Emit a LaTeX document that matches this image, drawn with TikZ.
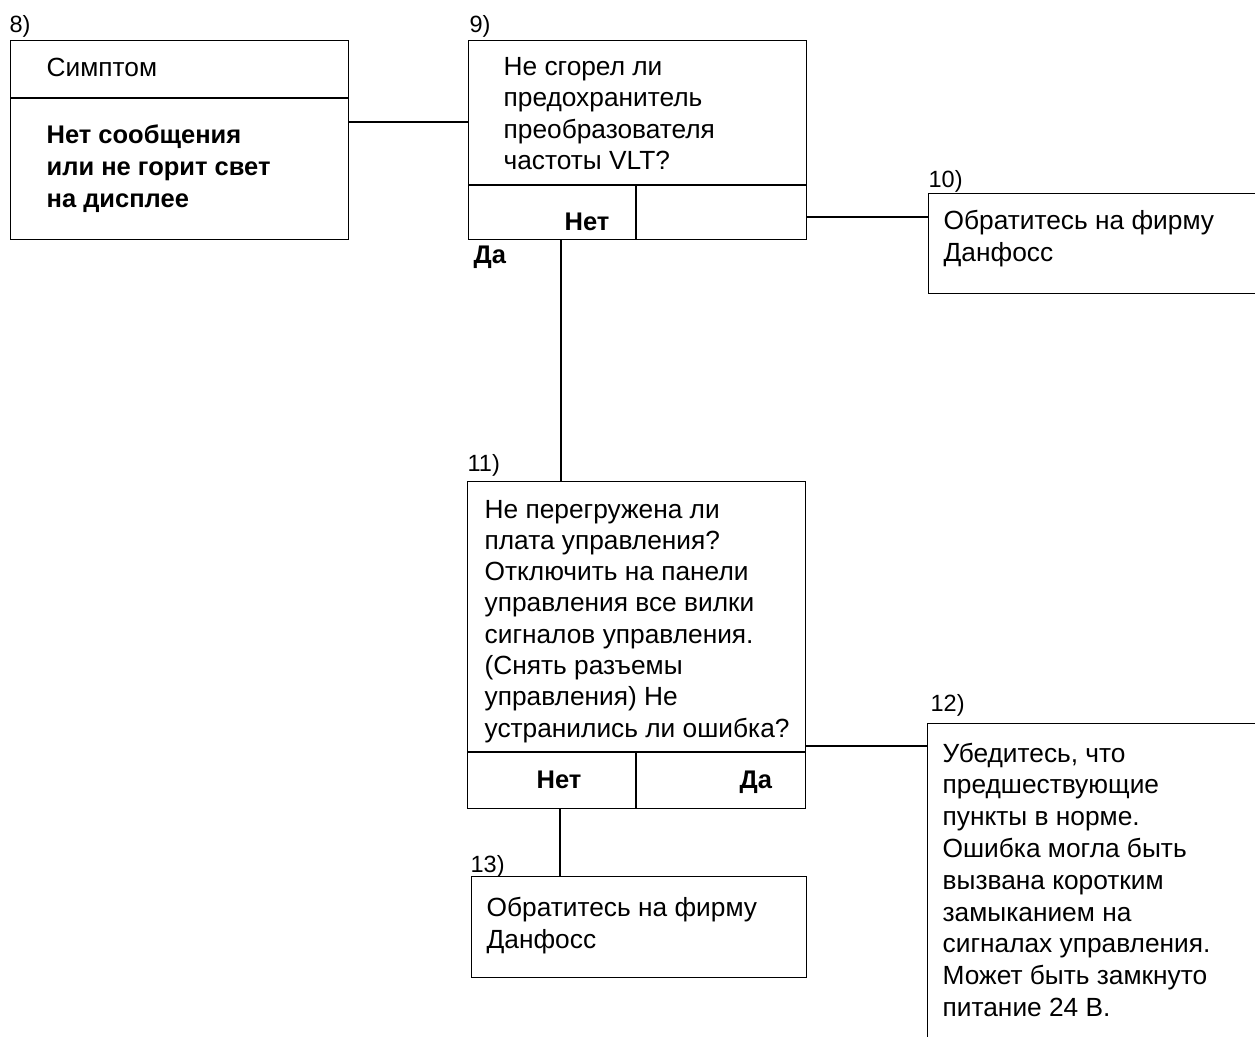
\documentclass[tikz,border=0pt]{standalone}
\usepackage{fontspec}
\setmainfont{Liberation Sans}
\newcommand{\tlines}[1]{\begin{tabular}[t]{@{}l@{}}#1\end{tabular}}
\begin{document}
\begin{tikzpicture}[x=1pt,y=-1pt,line width=1.3pt,
  box/.style={draw,rectangle,inner sep=0pt,anchor=north west},
  txt/.style={anchor=base west,inner sep=0pt,font=\fontsize{26.3}{#1}\selectfont},
  txt/.default=31,
  lbl/.style={anchor=base west,inner sep=0pt,font=\fontsize{23.5}{28}\selectfont},
  bold/.style={anchor=base west,inner sep=0pt,font=\fontsize{25.5}{#1}\selectfont\bfseries},
  bold/.default=31]
\clip (0,0) rectangle (1255,1036);
\fill[white] (0,0) rectangle (1255,1036);
% boxes
\node[box,minimum width=338pt,minimum height=199pt] (b8) at (10,40) {};
\node[box,minimum width=338pt,minimum height=199pt] (b9) at (468,40) {};
\node[box,minimum width=342pt,minimum height=100pt] (b10) at (928,193) {};
\node[box,minimum width=338pt,minimum height=327pt] (b11) at (467,481) {};
\node[box,minimum width=343pt,minimum height=340pt] (b12) at (927,723) {};
\node[box,minimum width=335pt,minimum height=101pt] (b13) at (471,876) {};
% dividers
\draw (b8.west |- 0,98) -- (b8.east |- 0,98);
\draw (b9.west |- 0,185) -- (b9.east |- 0,185);
\draw (636,185) -- (b9.south -| 636,0);
\draw (b11.west |- 0,752) -- (b11.east |- 0,752);
\draw (636,752) -- (b11.south -| 636,0);
% connectors
\draw (b8.east |- 0,122) -- (b9.west |- 0,122);
\draw (b9.east |- 0,217) -- (b10.west |- 0,217);
\draw (b9.south -| 561,0) -- (b11.north -| 561,0);
\draw (b11.east |- 0,746) -- (b12.west |- 0,746);
\draw (b11.south -| 560,0) -- (b13.north -| 560,0);
% labels
\node[lbl] (l8) at (9,32) {8)};
\node[lbl] (l9) at (469,32) {9)};
\node[lbl] (l10) at (928,187) {10)};
\node[lbl] (l11) at (467,471) {11)};
\node[lbl] (l12) at (930,711) {12)};
\node[lbl] (l13) at (470,872) {13)};
% texts
\node[txt] (t8a) at (46,76) {Симптом};
\node[bold=32] (t8b) at (46,143) {\tlines{Нет сообщения\\или не горит свет\\на дисплее}};
\node[txt=31.5] (t9) at (503,75) {\tlines{Не сгорел ли\\предохранитель\\преобразователя\\частоты VLT?}};
\node[bold] (n9) at (564,230) {Нет};
\node[bold] (d9) at (473,263) {Да};
\node[txt=32] (t10) at (943,229) {\tlines{Обратитесь на фирму\\Данфосс}};
\node[txt=31.3] (t11) at (484,518) {\tlines{Не перегружена ли\\плата управления?\\Отключить на панели\\управления все вилки\\сигналов управления.\\(Снять разъемы\\управления) Не\\устранились ли ошибка?}};
\node[bold] (n11) at (536,788) {Нет};
\node[bold] (d11) at (739,788) {Да};
\node[txt=31.8] (t12) at (942,762) {\tlines{Убедитесь, что\\предшествующие\\пункты в норме.\\Ошибка могла быть\\вызвана коротким\\замыканием на\\сигналах управления.\\Может быть замкнуто\\питание 24 В.}};
\node[txt=32] (t13) at (486,916) {\tlines{Обратитесь на фирму\\Данфосс}};
\end{tikzpicture}
\end{document}
